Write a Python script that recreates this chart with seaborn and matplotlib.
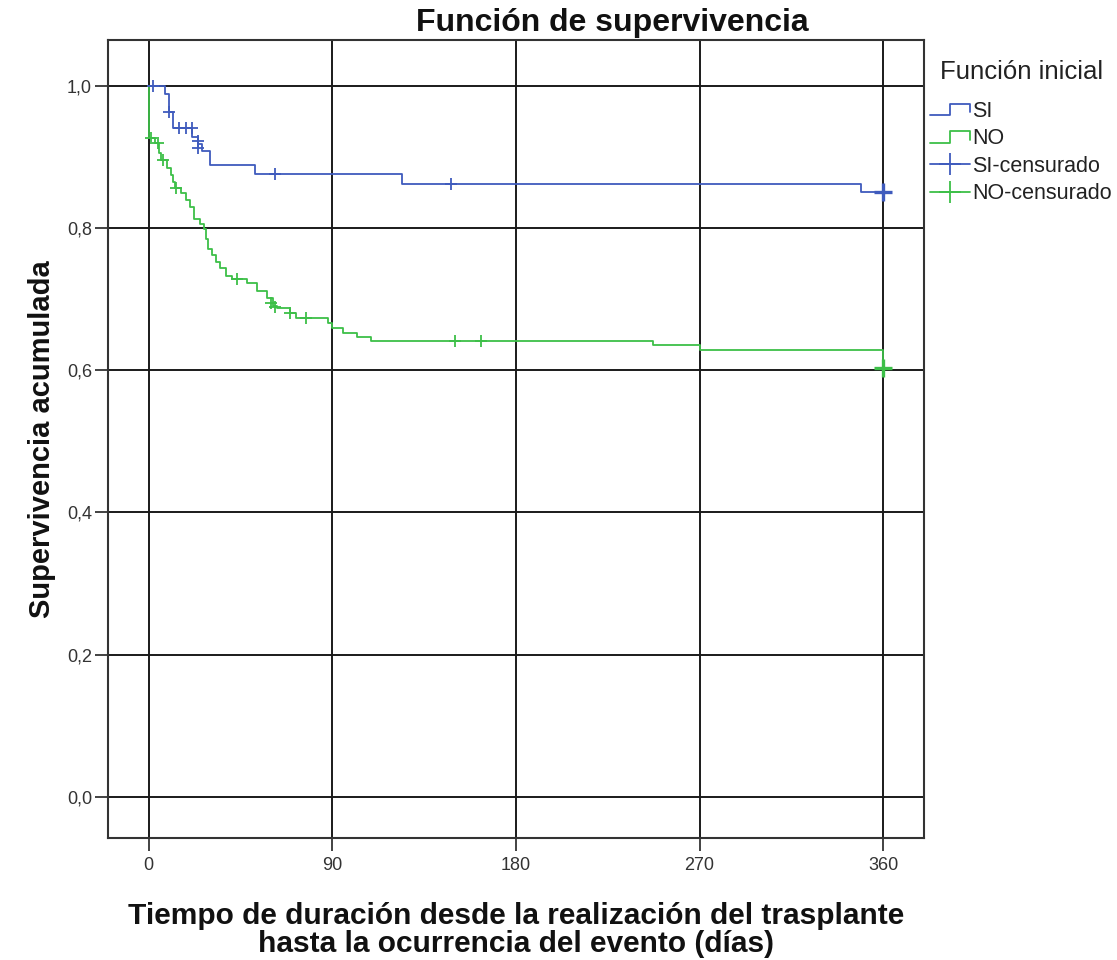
import numpy as np
import pandas as pd
import seaborn as sns
from matplotlib import pyplot as plt
from matplotlib.lines import Line2D
from matplotlib.legend_handler import HandlerBase

# curva SI (tiempo en días, supervivencia acumulada)
si_tiempo = [0, 8, 10, 12, 21, 24, 26, 30, 52, 124, 349, 360]
si_surv = [1.0, 0.988, 0.963, 0.941, 0.928, 0.918, 0.909, 0.889, 0.876, 0.862, 0.850, 0.850]
si_cens_tiempo = [2, 10, 15, 18, 21, 24, 24, 62, 148]
si_cens_surv = [1.0, 0.963, 0.941, 0.941, 0.941, 0.923, 0.913, 0.876, 0.862]

# curva NO
no_tiempo = [0, 0, 3, 5, 6, 9, 11, 12, 13, 16, 18, 20, 22, 25, 27, 28, 29, 31, 33, 35,
             38, 41, 48, 53, 58, 61, 63, 69, 72, 88, 90, 95, 102, 109, 247, 270, 360]
no_surv = [1.0, 0.926, 0.919, 0.905, 0.895, 0.885, 0.875, 0.865, 0.856, 0.849, 0.840,
           0.830, 0.813, 0.806, 0.799, 0.785, 0.771, 0.762, 0.752, 0.744, 0.733, 0.729,
           0.722, 0.712, 0.702, 0.691, 0.687, 0.680, 0.673, 0.666, 0.660, 0.653, 0.647,
           0.641, 0.636, 0.629, 0.603]
no_cens_tiempo = [1, 4.5, 7, 13.5, 43, 60, 62, 69, 77, 150, 163]
no_cens_surv = [0.926, 0.919, 0.895, 0.856, 0.729, 0.694, 0.689, 0.680, 0.673, 0.641, 0.641]

# muchos censurados al final del seguimiento
fin_tiempo = [360, 360]
fin_surv = [0.850, 0.603]

x_ticks = [0, 90, 180, 270, 360]
y_ticks = [0.0, 0.2, 0.4, 0.6, 0.8, 1.0]
y_labels = ["0,0", "0,2", "0,4", "0,6", "0,8", "1,0"]

azul = "#3f5bbd"
verde = "#3dbf48"

sns.set_theme(style="white")
plt.rcParams["font.family"] = ["Liberation Sans", "DejaVu Sans"]

df_si = pd.DataFrame({"t": si_tiempo, "s": si_surv})
df_no = pd.DataFrame({"t": no_tiempo, "s": no_surv})

fig = plt.figure(figsize=(11.17, 9.6), dpi=100)
ax = fig.add_axes([0.0967, 0.127, 0.7305, 0.831])

sns.lineplot(data=df_si, x="t", y="s", ax=ax, color=azul, lw=1.3,
             drawstyle="steps-post", estimator=None, sort=False)
sns.lineplot(data=df_no, x="t", y="s", ax=ax, color=verde, lw=1.3,
             drawstyle="steps-post", estimator=None, sort=False)

sns.scatterplot(x=si_cens_tiempo, y=si_cens_surv, ax=ax, marker="+", s=85,
                color=azul, linewidth=1.3, zorder=4)
sns.scatterplot(x=no_cens_tiempo, y=no_cens_surv, ax=ax, marker="+", s=85,
                color=verde, linewidth=1.3, zorder=4)
sns.scatterplot(x=fin_tiempo[:1], y=fin_surv[:1], ax=ax, marker="+", s=160,
                color=azul, linewidth=2.4, zorder=4)
sns.scatterplot(x=fin_tiempo[1:], y=fin_surv[1:], ax=ax, marker="+", s=160,
                color=verde, linewidth=2.4, zorder=4)

ax.set_xlim(-20, 380)
ax.set_ylim(-0.058, 1.064)
ax.set_xticks(x_ticks)
ax.set_yticks(y_ticks)
ax.set_yticklabels(y_labels)
ax.grid(True, color="#1a1a1a", lw=1.4)
ax.set_axisbelow(True)
for sp in ax.spines.values():
    sp.set_color("#333333")
    sp.set_linewidth(1.5)
ax.tick_params(axis="both", direction="out", length=9.5, width=1.2, color="#222222",
               labelsize=13, labelcolor="#333333", bottom=True, left=True)
ax.tick_params(axis="y", pad=2)
ax.tick_params(axis="x", pad=4)

ax.set_xlabel("Tiempo de duración desde la realización del trasplante\nhasta la ocurrencia del evento (días)",
              fontsize=21.5, fontweight="bold", labelpad=20, linespacing=1.0, color="#111111")
ax.set_ylabel("Supervivencia acumulada", fontsize=21, fontweight="bold", labelpad=8,
              color="#111111")
fig.text(0.548, 0.976, "Función de supervivencia", ha="center", va="center",
         fontsize=23, fontweight="bold", color="#111111")


class StepHandler(HandlerBase):
    def create_artists(self, legend, orig_handle, xdescent, ydescent, width, height, fontsize, trans):
        xs = np.array([0, 0.5, 0.5, 1.0, 1.0]) * width - xdescent
        ys = np.array([0.1, 0.1, 0.85, 0.85, 0.3]) * height - ydescent
        ln = Line2D(xs, ys, color=orig_handle.get_color(), lw=1.3)
        ln.set_transform(trans)
        return [ln]


h_si = Line2D([], [], color=azul)
h_no = Line2D([], [], color=verde)
h_si_c = Line2D([], [], color=azul, lw=1.3, marker="+", markersize=16, markeredgewidth=1.3)
h_no_c = Line2D([], [], color=verde, lw=1.3, marker="+", markersize=16, markeredgewidth=1.3)

fig.text(0.8415, 0.925, "Función inicial", ha="left", va="center", fontsize=18.5,
         color="#222222")
leg = ax.legend([h_si, h_no, h_si_c, h_no_c], ["SI", "NO", "SI-censurado", "NO-censurado"],
                handler_map={h_si: StepHandler(), h_no: StepHandler()},
                loc="upper left", bbox_to_anchor=(0.833, 0.895), bbox_transform=fig.transFigure,
                frameon=False, fontsize=15.5, handlelength=1.85, handletextpad=0.1,
                labelspacing=0.3, borderaxespad=0, borderpad=0)
for t in leg.get_texts():
    t.set_color("#222222")

fig.savefig("out.png", dpi=100)
